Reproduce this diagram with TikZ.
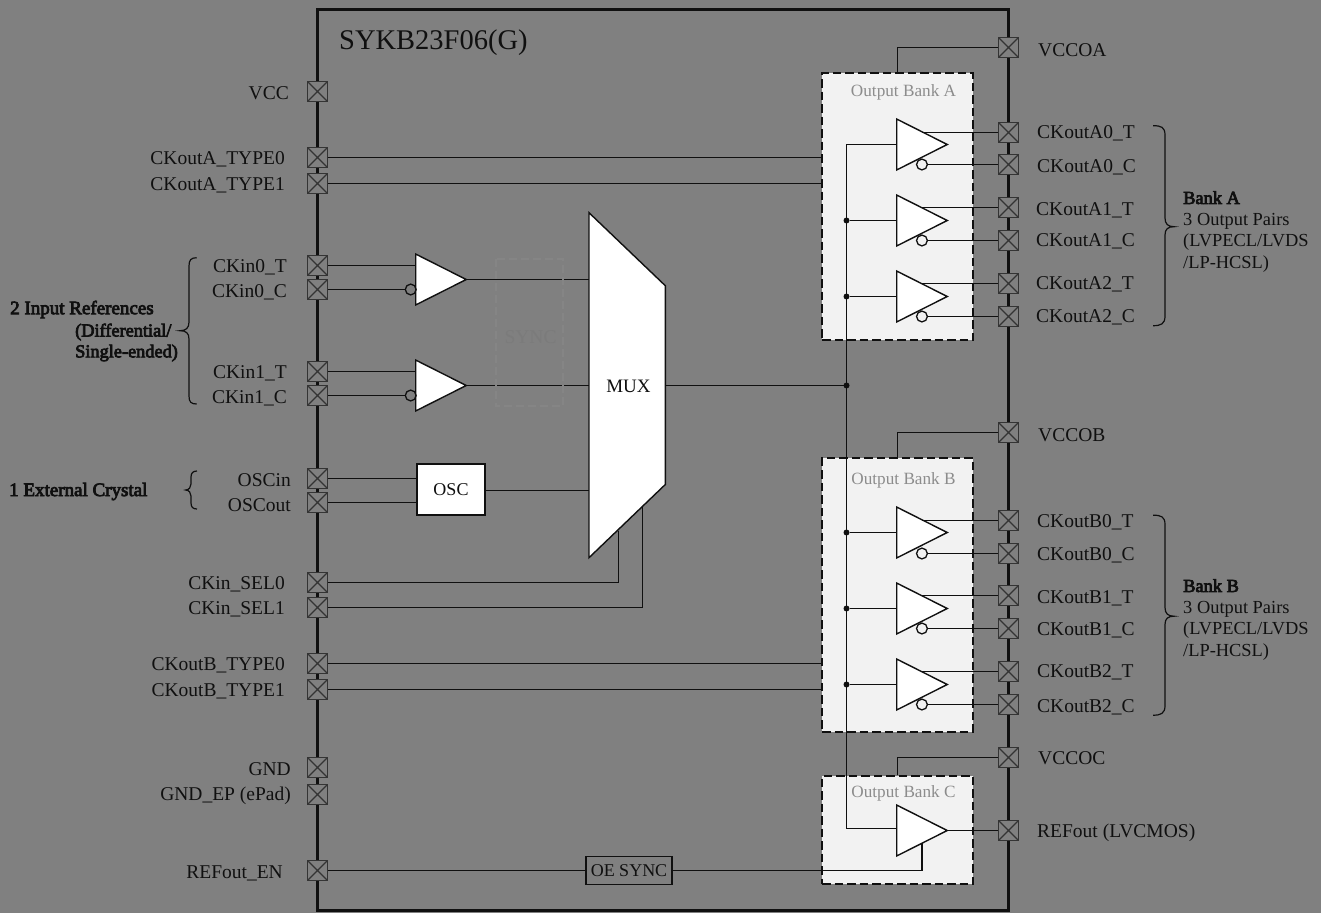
\documentclass[tikz,border=0pt]{standalone}
\usepackage{fontspec}
\setmainfont{Liberation Serif}
\newfontfamily\fakebold[FakeBold=4]{Liberation Serif}
\usetikzlibrary{shapes.geometric}
\definecolor{bggrey}{HTML}{808080}
\definecolor{bankfill}{HTML}{F2F2F2}
\definecolor{ink}{HTML}{101010}
\tikzset{
  wire/.style={draw=ink, line width=1.6pt},
  gatefill/.style={draw=ink, fill=white, line width=1.4pt},
  pin/.style={rectangle, draw=ink!85, fill=bggrey, line width=1.4pt, inner sep=0pt,
    minimum size=19.5pt, path picture={
      \draw[ink!85, line width=1.2pt] (path picture bounding box.north west) -- (path picture bounding box.south east)
        (path picture bounding box.north east) -- (path picture bounding box.south west);}},
  lbl/.style={font=\fontsize{19.5}{21.5}\selectfont, text=ink, inner sep=0pt},
  llbl/.style={lbl, anchor=east, yshift=-1pt},
  rlbl/.style={lbl, anchor=west, yshift=-1pt},
  notelbl/.style={lbl, font=\fontsize{18.4}{21.5}\selectfont, anchor=north west, align=left},
  buffer/.style={gatefill, isosceles triangle, isosceles triangle apex angle=53.5,
    minimum height=50.5pt, inner sep=0pt, outer sep=0pt, anchor=lower side},
  bubble/.style={circle, draw=ink, line width=1.3pt, minimum size=10.8pt, inner sep=0pt},
  dot/.style={circle, fill=ink, minimum size=6pt, inner sep=0pt},
  bank/.style={rectangle, draw=ink, fill=bankfill, line width=2.2pt,
    dash pattern=on 8.5pt off 4pt, minimum width=151pt, inner sep=0pt},
  banklbl/.style={font=\fontsize{17.2}{20}\selectfont, text=black!45, inner sep=0pt},
  brace/.style={draw=ink, line width=1.2pt},
}
\newcommand{\bankbrace}[1]{
  \draw[brace, shift={(0,#1)}] (1153,125.7) .. controls (1161,125.7) and (1165,127) .. (1165,135)
    -- (1165,218) .. controls (1165,224) and (1168,226.7) .. (1174,226.7)
    .. controls (1168,226.7) and (1165,229) .. (1165,235) -- (1165,316)
    .. controls (1165,324) and (1161,325.7) .. (1153,325.7);
}
\begin{document}
\begin{tikzpicture}[x=1pt, y=-1pt]
\useasboundingbox (0,0) rectangle (1321,913);
\fill[bggrey] (0,0) rectangle (1321,913);

% chip outline
\draw[ink, line width=2.6pt] (317.5,9.5) rectangle (1008.5,910.5);
\node[lbl, font=\fontsize{28.5}{30}\selectfont, anchor=west] (chipname) at (339,42.5) {SYKB23F06(G)};

% output banks
\node[bank, minimum height=267pt] (bankA) at (897.5,206.5) {};
\node[bank, minimum height=273.5pt] (bankB) at (897.5,595) {};
\node[bank, minimum height=108pt] (bankC) at (897.5,830) {};
\node[banklbl] (lblBankA) at (903.5,92) {Output Bank A};
\node[banklbl] (lblBankB) at (903.5,480) {Output Bank B};
\node[banklbl] (lblBankC) at (903.5,793) {Output Bank C};

% left pins
\node[pin] (pinVCC) at (317.5,91.5) {};
\node[pin] (pinAT0) at (317.5,157.5) {};
\node[pin] (pinAT1) at (317.5,183.5) {};
\node[pin] (pinI0T) at (317.5,265.5) {};
\node[pin] (pinI0C) at (317.5,289.5) {};
\node[pin] (pinI1T) at (317.5,371.5) {};
\node[pin] (pinI1C) at (317.5,395.5) {};
\node[pin] (pinOSCin) at (317.5,478.5) {};
\node[pin] (pinOSCout) at (317.5,502.5) {};
\node[pin] (pinSel0) at (317.5,582.5) {};
\node[pin] (pinSel1) at (317.5,607.5) {};
\node[pin] (pinBT0) at (317.5,663.5) {};
\node[pin] (pinBT1) at (317.5,689.5) {};
\node[pin] (pinGND) at (317.5,767.5) {};
\node[pin] (pinEP) at (317.5,794.5) {};
\node[pin] (pinEN) at (317.5,870.5) {};

\node[llbl] (lblVCC) at (289,92) {VCC};
\node[llbl] (lblAT0) at (285,158) {CKoutA\_TYPE0};
\node[llbl] (lblAT1) at (285,184) {CKoutA\_TYPE1};
\node[llbl] (lblI0T) at (287,266) {CKin0\_T};
\node[llbl] (lblI0C) at (287,291.5) {CKin0\_C};
\node[llbl] (lblI1T) at (287,372) {CKin1\_T};
\node[llbl] (lblI1C) at (287,397) {CKin1\_C};
\node[llbl] (lblOSCin) at (291,479) {OSCin};
\node[llbl] (lblOSCout) at (291,504) {OSCout};
\node[llbl] (lblSel0) at (285,583) {CKin\_SEL0};
\node[llbl] (lblSel1) at (285,608) {CKin\_SEL1};
\node[llbl] (lblBT0) at (285,664) {CKoutB\_TYPE0};
\node[llbl] (lblBT1) at (285,690) {CKoutB\_TYPE1};
\node[llbl] (lblGND) at (291,768) {GND};
\node[llbl] (lblEP) at (291,795) {GND\_EP (ePad)};
\node[llbl] (lblEN) at (283,872) {REFout\_EN};

% right pins
\node[pin] (pinVA) at (1008.5,47.5) {};
\node[pin] (pinA0T) at (1008.5,132.5) {};
\node[pin] (pinA0C) at (1008.5,164.5) {};
\node[pin] (pinA1T) at (1008.5,207.5) {};
\node[pin] (pinA1C) at (1008.5,240.5) {};
\node[pin] (pinA2T) at (1008.5,283.5) {};
\node[pin] (pinA2C) at (1008.5,316.5) {};
\node[pin] (pinVB) at (1008.5,432.5) {};
\node[pin] (pinB0T) at (1008.5,520.5) {};
\node[pin] (pinB0C) at (1008.5,553.5) {};
\node[pin] (pinB1T) at (1008.5,595.5) {};
\node[pin] (pinB1C) at (1008.5,628.5) {};
\node[pin] (pinB2T) at (1008.5,671.5) {};
\node[pin] (pinB2C) at (1008.5,704.5) {};
\node[pin] (pinVC) at (1008.5,757.5) {};
\node[pin] (pinREF) at (1008.5,830.5) {};

\node[rlbl] (lblVA) at (1038,49) {VCCOA};
\node[rlbl] (lblA0T) at (1037,132.7) {CKoutA0\_T};
\node[rlbl] (lblA0C) at (1037,166) {CKoutA0\_C};
\node[rlbl] (lblA1T) at (1036,209) {CKoutA1\_T};
\node[rlbl] (lblA1C) at (1036,240.7) {CKoutA1\_C};
\node[rlbl] (lblA2T) at (1036,283.3) {CKoutA2\_T};
\node[rlbl] (lblA2C) at (1036,316.7) {CKoutA2\_C};
\node[rlbl] (lblVB) at (1038,434) {VCCOB};
\node[rlbl] (lblB0T) at (1037,521) {CKoutB0\_T};
\node[rlbl] (lblB0C) at (1037,554.5) {CKoutB0\_C};
\node[rlbl] (lblB1T) at (1037,597.5) {CKoutB1\_T};
\node[rlbl] (lblB1C) at (1037,629.5) {CKoutB1\_C};
\node[rlbl] (lblB2T) at (1037,671.5) {CKoutB2\_T};
\node[rlbl] (lblB2C) at (1037,706) {CKoutB2\_C};
\node[rlbl] (lblVC) at (1038,757.5) {VCCOC};
\node[rlbl] (lblREF) at (1037,831.5) {REFout (LVCMOS)};

% side notes
\node[lbl, anchor=west, font=\fontsize{19}{22}\fakebold] (noteRefA) at (10,309.5) {2 Input References};
\node[lbl, anchor=west, font=\fontsize{18.3}{22}\fakebold] (noteRefB) at (75,332) {(Differential/};
\node[lbl, anchor=west, font=\fontsize{18.3}{22}\fakebold] (noteRefC) at (75,353) {Single-ended)};
\node[lbl, anchor=west, font=\fontsize{19}{22}\fakebold] (noteXtal) at (9,491.5) {1 External Crystal};
\node[notelbl] (noteA) at (1183,191) {{\fakebold Bank A}\\3 Output Pairs\\(LVPECL/LVDS\\/LP-HCSL)};
\node[notelbl] (noteB) at (1183,579) {{\fakebold Bank B}\\3 Output Pairs\\(LVPECL/LVDS\\/LP-HCSL)};

\bankbrace{0}
\bankbrace{389.5}
\draw[brace] (196.7,257.7) .. controls (191,257.7) and (189,260) .. (189,266)
  -- (189,322) .. controls (189,328) and (186,330.7) .. (180,330.7)
  .. controls (186,330.7) and (189,333) .. (189,339) -- (189,396)
  .. controls (189,402) and (191,404) .. (196.7,404);
\draw[brace] (197,471) .. controls (193,471) and (191,473) .. (191,477)
  -- (191,484) .. controls (191,487) and (189,490) .. (185.7,490)
  .. controls (189,490) and (191,493) .. (191,496) -- (191,503)
  .. controls (191,507) and (193,509) .. (197,509);

\coordinate (muxL) at (589,385.5);
\coordinate (muxR) at (665.3,385.5);
\coordinate (muxO) at (589,490.5);
\coordinate (busMux) at (846.5,385.5);
\coordinate (busTop) at (846.5,144.5);
\coordinate (busBot) at (846.5,828.5);
\coordinate (muxSa) at (618.5,531);
\coordinate (muxSb) at (642.5,507);

% input stage
\node[buffer] (bufI0) at (415.7,279.5) {};
\node[buffer] (bufI1) at (415.7,385.5) {};
\node[bubble] (bubI0) at (410.7,289.5) {};
\node[bubble] (bubI1) at (410.7,395.5) {};
\node[rectangle, gatefill, minimum width=68pt, minimum height=51pt, inner sep=0pt, font=\fontsize{18}{20}\selectfont, text=ink] (osc) at (451,489.5) {OSC};
\draw[wire] (pinI0T) -- (pinI0T -| bufI0.lower side);
\draw[wire] (pinI0C) -- (bubI0);
\draw[wire] (pinI1T) -- (pinI1T -| bufI1.lower side);
\draw[wire] (pinI1C) -- (bubI1);
\draw[wire] (pinOSCin) -- (pinOSCin -| osc.west);
\draw[wire] (pinOSCout) -- (pinOSCout -| osc.west);
\draw[wire] (bufI0.apex) -- (bufI0.apex -| muxL);
\draw[wire] (bufI1.apex) -- (muxL);
\draw[wire] (osc.east |- muxO) -- (muxO);
\draw[wire] (pinSel0) -| (muxSa);
\draw[wire] (pinSel1) -| (muxSb);

% faint box over the two wires
\draw[bggrey!96!white, line width=2pt, dash pattern=on 8pt off 4pt] (495.5,258.5) rectangle (562.5,406);
\node[lbl, text=bggrey!96!black] (syncghost) at (530.5,337) {SYNC};

% mux
\draw[gatefill] (589,212.7) -- (665.3,285.7) -- (665.3,484.5) -- (589,557.7) -- cycle;
\node[lbl, font=\fontsize{19}{20}\selectfont] (mux) at (628.5,386) {MUX};
\draw[wire] (muxR) -- (busMux);

% output buffers
\node[buffer] (bufA0) at (896.7,144.5) {};
\node[buffer] (bufA1) at (896.7,220.5) {};
\node[buffer] (bufA2) at (896.7,296.5) {};
\node[buffer] (bufB0) at (896.7,532.5) {};
\node[buffer] (bufB1) at (896.7,608.5) {};
\node[buffer] (bufB2) at (896.7,684.5) {};
\node[buffer] (bufC) at (896.7,830.5) {};

\node[bubble] (bubA0) at (bufA0.right side |- pinA0C) {};
\node[bubble] (bubA1) at (bufA1.right side |- pinA1C) {};
\node[bubble] (bubA2) at (bufA2.right side |- pinA2C) {};
\node[bubble] (bubB0) at (bufB0.right side |- pinB0C) {};
\node[bubble] (bubB1) at (bufB1.right side |- pinB1C) {};
\node[bubble] (bubB2) at (bufB2.right side |- pinB2C) {};

\node[dot] (dotMux) at (busMux) {};
\node[dot] (dotA1) at (busTop |- bufA1.lower side) {};
\node[dot] (dotA2) at (busTop |- bufA2.lower side) {};
\node[dot] (dotB0) at (busTop |- bufB0.lower side) {};
\node[dot] (dotB1) at (busTop |- bufB1.lower side) {};
\node[dot] (dotB2) at (busTop |- bufB2.lower side) {};

\draw[wire] (bufA0.lower side) -- (busTop) -- (busBot) -- (busBot -| bufC.lower side);
\draw[wire] (dotA1) -- (bufA1.lower side);
\draw[wire] (dotA2) -- (bufA2.lower side);
\draw[wire] (dotB0) -- (bufB0.lower side);
\draw[wire] (dotB1) -- (bufB1.lower side);
\draw[wire] (dotB2) -- (bufB2.lower side);

\draw[wire] (bufA0.left side |- pinA0T) -- (pinA0T);
\draw[wire] (bufA1.left side |- pinA1T) -- (pinA1T);
\draw[wire] (bufA2.left side |- pinA2T) -- (pinA2T);
\draw[wire] (bufB0.left side |- pinB0T) -- (pinB0T);
\draw[wire] (bufB1.left side |- pinB1T) -- (pinB1T);
\draw[wire] (bufB2.left side |- pinB2T) -- (pinB2T);
\draw[wire] (bubA0) -- (pinA0C);
\draw[wire] (bubA1) -- (pinA1C);
\draw[wire] (bubA2) -- (pinA2C);
\draw[wire] (bubB0) -- (pinB0C);
\draw[wire] (bubB1) -- (pinB1C);
\draw[wire] (bubB2) -- (pinB2C);
\draw[wire] (bufC.apex) -- (pinREF);

% supply and control lines
\draw[wire] (pinVA) -| (bankA.north);
\draw[wire] (pinVB) -| (bankB.north);
\draw[wire] (pinVC) -| (bankC.north);
\draw[wire] (pinAT0) -- (pinAT0 -| bankA.west);
\draw[wire] (pinAT1) -- (pinAT1 -| bankA.west);
\draw[wire] (pinBT0) -- (pinBT0 -| bankB.west);
\draw[wire] (pinBT1) -- (pinBT1 -| bankB.west);

\node[rectangle, draw=ink, fill=bggrey, line width=1.4pt, minimum width=86pt, minimum height=28pt, inner sep=0pt, font=\fontsize{18}{20}\selectfont, text=ink] (oesync) at (629,870.5) {OE SYNC};
\draw[wire] (pinEN) -- (pinEN -| oesync.west);
\draw[wire] (oesync) -| (bufC.right side);

\end{tikzpicture}
\end{document}
